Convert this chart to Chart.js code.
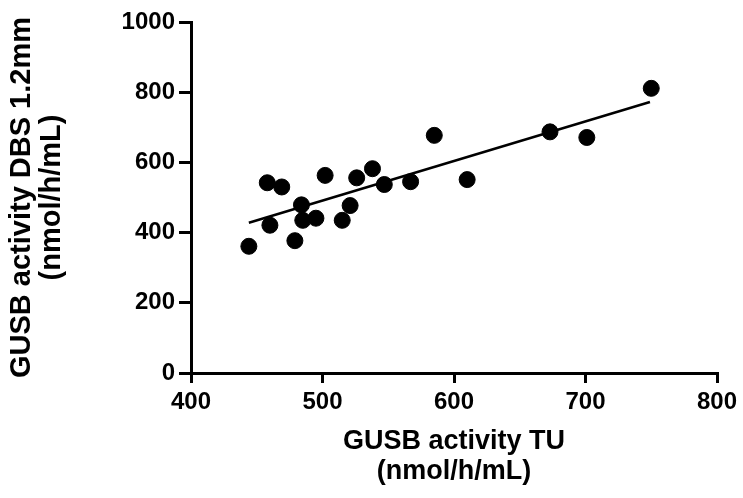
<!DOCTYPE html>
<html>
<head>
<meta charset="utf-8">
<script src="https://cdn.jsdelivr.net/npm/chart.js@4"></script>
<style>
  html, body { margin: 0; padding: 0; background: #fff; }
  #wrap { width: 743px; height: 498px; }
</style>
</head>
<body>
<div id="wrap"><canvas id="chart" width="743" height="498"></canvas></div>
<script>
// GUSB activity, TU vs DBS 1.2mm (nmol/h/mL)
const tuValues = [444, 458, 469, 460, 479, 484, 485, 495, 502, 515, 521, 526, 538, 547, 567, 585, 610, 673, 701, 750]
const dbsValues = [361, 542, 530, 421, 377, 479, 435, 441, 563, 435, 477, 556, 582, 537, 545, 677, 551, 687, 671, 811]

// fitted line, ends
const fitX = [444, 749]
const fitY = [428, 772]

const xTicks = [400, 500, 600, 700, 800]
const yTicks = [0, 200, 400, 600, 800, 1000]

const points = tuValues.map((x, i) => ({ x: x, y: dbsValues[i] }))
const fitLine = fitX.map((x, i) => ({ x: x, y: fitY[i] }))

const fontFamily = "'Liberation Sans', Arial, sans-serif"

new Chart(document.getElementById("chart"), {
    type: "scatter",
    data: {
        datasets: [
            {
                label: "samples",
                data: points,
                backgroundColor: "#000",
                borderColor: "#000",
                pointRadius: 8,
                pointHoverRadius: 8
            },
            {
                label: "fit",
                type: "line",
                data: fitLine,
                borderColor: "#000",
                borderWidth: 2.5,
                pointRadius: 0,
                fill: false
            }
        ]
    },
    options: {
        responsive: false,
        animation: false,
        layout: { padding: { left: 7, top: 22, right: 26, bottom: 11 } },
        plugins: {
            legend: { display: false },
            tooltip: { enabled: false }
        },
        scales: {
            x: {
                type: "linear",
                min: 400,
                max: 800,
                afterBuildTicks: axis => { axis.ticks = xTicks.map(v => ({ value: v })) },
                afterFit: axis => { axis.height = 114 },
                grid: {
                    drawOnChartArea: false,
                    color: "#000",
                    lineWidth: 3,
                    tickLength: 10
                },
                border: { color: "#000", width: 3 },
                ticks: {
                    color: "#000",
                    padding: 5,
                    callback: v => String(v),
                    font: { family: fontFamily, size: 24, weight: "bold" }
                },
                title: {
                    display: true,
                    text: ["GUSB activity TU", "(nmol/h/mL)"],
                    color: "#000",
                    padding: 0,
                    font: { family: fontFamily, size: 27, weight: "bold", lineHeight: 30 / 27 }
                }
            },
            y: {
                type: "linear",
                min: 0,
                max: 1000,
                afterBuildTicks: axis => { axis.ticks = yTicks.map(v => ({ value: v })) },
                afterFit: axis => { axis.width = 184 },
                grid: {
                    drawOnChartArea: false,
                    color: "#000",
                    lineWidth: 3,
                    tickLength: 12
                },
                border: { color: "#000", width: 3 },
                ticks: {
                    color: "#000",
                    padding: 4,
                    callback: v => String(v),
                    font: { family: fontFamily, size: 24, weight: "bold" }
                },
                title: {
                    display: true,
                    text: ["GUSB activity DBS 1.2mm", "(nmol/h/mL)"],
                    color: "#000",
                    padding: 0,
                    font: { family: fontFamily, size: 29, weight: "bold", lineHeight: 30 / 29 }
                }
            }
        }
    }
})
</script>
</body>
</html>
